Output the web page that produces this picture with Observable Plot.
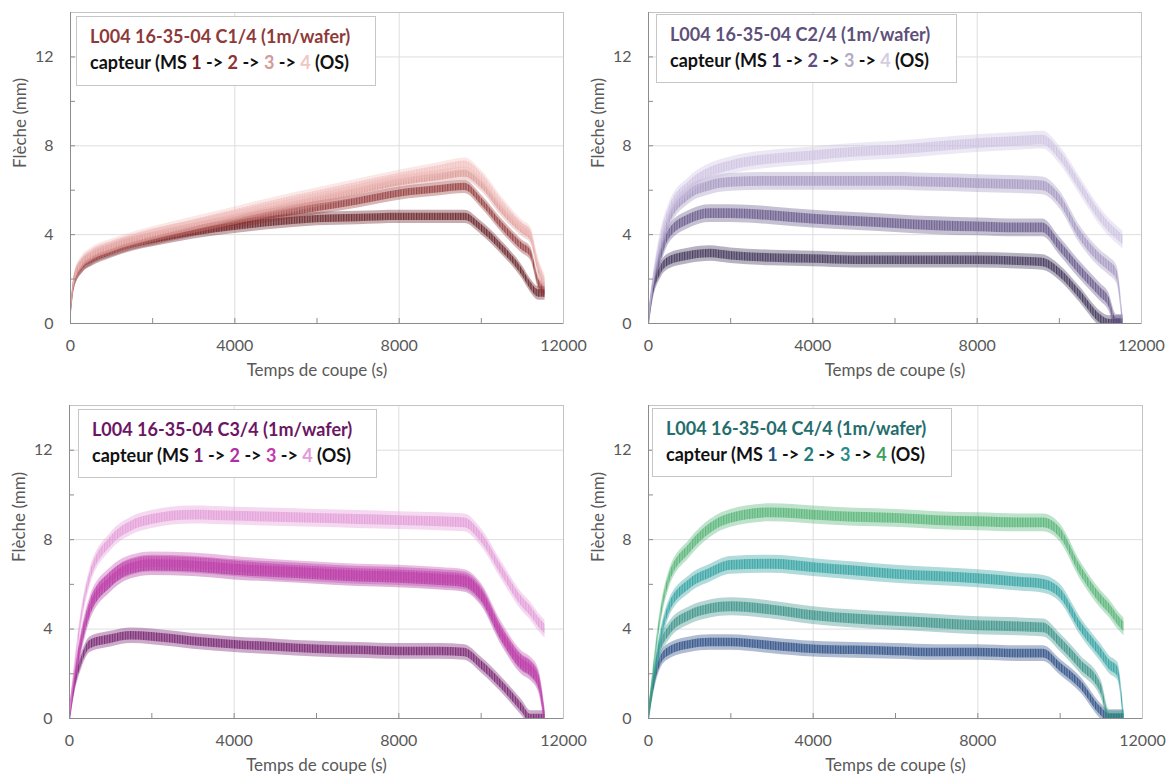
<!DOCTYPE html>
<html><head><meta charset="utf-8">
<script src="https://cdn.jsdelivr.net/npm/d3@7"></script>
<script src="https://cdn.jsdelivr.net/npm/@observablehq/plot@0.6"></script>
<style>
body{margin:0;background:#fff;}
#wrap{position:relative;width:1176px;height:778px;overflow:hidden;background:#fff;}
.panel{position:absolute;}
.legend{position:absolute;box-sizing:border-box;border:1px solid #c6c6c6;background:#fff;font-family:Lato,sans-serif;font-weight:700;font-size:18px;white-space:nowrap;}
.legend div{position:absolute;left:13px;line-height:20px;}
</style>
</head><body><div id="wrap"></div>
<script>
// time grid (s)
const T = [0,100,300,500,1000,1500,2000,3000,4000,5000,6000,7000,8000,9000,9600,10000,10500,11000,11200,11400,11550];
// C1/4 : Flèche (mm), capteurs 1..4
const c1s1 = [0.3,1.9,2.6,2.85,3.25,3.55,3.75,4.1,4.35,4.55,4.7,4.75,4.8,4.8,4.8,4.3,3.4,2.3,1.7,1.35,1.35];
const c1s2 = [0.3,1.9,2.6,2.9,3.3,3.6,3.8,4.2,4.55,4.9,5.2,5.5,5.85,6.05,6.15,5.5,4.4,3.45,3.15,1.8,1.45];
const c1s3 = [0.3,2.0,2.7,3.0,3.4,3.7,3.95,4.35,4.75,5.15,5.55,5.95,6.35,6.6,6.75,6.25,5.1,4.2,3.9,2.4,1.7];
const c1s4 = [0.3,2.0,2.8,3.1,3.5,3.8,4.05,4.5,4.95,5.4,5.8,6.2,6.6,6.95,7.15,6.6,5.4,4.35,4.05,2.6,1.9];
// C2/4
const c2s1 = [0,1.3,2.4,2.8,3.05,3.15,3.05,2.95,2.9,2.85,2.85,2.85,2.85,2.8,2.75,2.3,1.3,0.2,0,0,0];
const c2s2 = [0,1.4,3.0,4.0,4.7,4.95,4.95,4.85,4.7,4.6,4.5,4.4,4.35,4.3,4.3,3.5,2.4,1.4,1.0,0,0];
const c2s3 = [0,1.5,3.4,4.6,5.8,6.2,6.35,6.4,6.4,6.4,6.4,6.35,6.3,6.25,6.2,5.6,4.0,2.9,2.6,2.2,0];
const c2s4 = [0,1.6,3.8,5.0,6.2,6.8,7.1,7.4,7.55,7.7,7.8,7.95,8.1,8.2,8.25,7.6,6.2,4.8,4.35,4.0,3.75];
// C3/4
const c3s1 = [0,1.2,2.6,3.3,3.55,3.7,3.65,3.45,3.3,3.2,3.1,3.05,3.0,3.0,2.95,2.4,1.5,0.45,0,0,0];
const c3s2 = [0,1.3,3.4,4.8,6.1,6.7,6.85,6.8,6.65,6.55,6.45,6.35,6.3,6.2,6.1,5.5,3.7,2.4,2.15,1.6,0];
const c3s3 = [0,1.4,3.6,5.0,6.3,6.85,7.0,6.95,6.8,6.65,6.55,6.45,6.4,6.3,6.2,5.6,3.85,2.55,2.3,1.75,0];
const c3s4 = [0,1.7,4.6,6.3,7.9,8.6,8.9,9.1,9.05,9.0,8.95,8.9,8.85,8.8,8.75,8.1,6.6,5.2,4.8,4.3,4.0];
// C4/4
const c4s1 = [0,1.2,2.6,3.0,3.3,3.4,3.4,3.25,3.1,3.05,3.0,2.95,2.95,2.9,2.9,2.3,1.5,0.3,0,0,0];
const c4s2 = [0,1.3,3.2,3.9,4.6,4.9,5.0,4.85,4.6,4.45,4.35,4.25,4.15,4.1,4.05,3.4,2.4,1.3,0,0,0];
const c4s3 = [0,1.4,3.6,4.9,6.0,6.5,6.85,6.9,6.75,6.6,6.45,6.35,6.25,6.1,6.0,5.6,4.1,2.9,2.4,2.1,0];
const c4s4 = [0,1.7,4.6,6.2,7.6,8.5,8.95,9.2,9.1,9.0,8.95,8.85,8.8,8.75,8.75,8.3,6.6,5.3,4.9,4.4,4.1];
// scatter half-width of each band (mm)
const c1half = [0.3,0.3,0.3,0.3];
const c2half = [0.35,0.4,0.4,0.4];
const c3half = [0.35,0.45,0.45,0.4];
const c4half = [0.35,0.4,0.4,0.4];
// labels
const titles = ["L004 16-35-04 C1/4 (1m/wafer)","L004 16-35-04 C2/4 (1m/wafer)","L004 16-35-04 C3/4 (1m/wafer)","L004 16-35-04 C4/4 (1m/wafer)"];
const xTicks = [0,4000,8000,12000];
const xMinor = [2000,4000,6000,8000,10000];
const yTicks = [0,4,8,12];
const yMinor = [2,4,6,8,10,12];
const xLabel = "Temps de coupe (s)";
const yLabel = "Flèche (mm)";

const colors = [
  ["#5c1116","#8e2d2d","#d9928f","#f0bdbb"],
  ["#30234b","#5b4b80","#9e90bd","#cbbfe0"],
  ["#6b0f63","#a42694","#c444ae","#e193d5"],
  ["#1b3f7b","#2a8a7e","#1f9999","#46ad69"]
];
const titleColors = ["#8e3a3a","#5e5078","#6b1665","#236d6d"];
const numColors = [
  ["#7a2222","#8e3232","#d49a9a","#efc6c6"],
  ["#3a2c5c","#5c4d82","#b3abc4","#d4cde2"],
  ["#7a1a72","#b02fa2","#c23aa9","#e39ad9"],
  ["#1f4f7d","#1f7b7b","#2a8b8b","#3d9d5e"]
];
const seriesSets = [[c1s1,c1s2,c1s3,c1s4],[c2s1,c2s2,c2s3,c2s4],[c3s1,c3s2,c3s3,c3s4],[c4s1,c4s2,c4s3,c4s4]];
const halves = [c1half,c2half,c3half,c4half];

// layout
const layout = [
  {left:0, top:0, width:588, height:389, mL:70, mR:25, mT:12, mB:66, box:{l:76,t:16,w:300,h:70}},
  {left:588, top:0, width:588, height:389, mL:60, mR:35, mT:12, mB:66, box:{l:656,t:14,w:301,h:69}},
  {left:0, top:389, width:588, height:389, mL:69, mR:25, mT:16, mB:60, box:{l:78,t:409,w:299,h:69}},
  {left:588, top:389, width:588, height:389, mL:60, mR:34, mT:16, mB:60, box:{l:652,t:408,w:300,h:69}}
];

const fmt = d => String(d);
const wrap = document.getElementById("wrap");
seriesSets.forEach((set, p) => {
  const L = layout[p];
  const rows = [];
  set.forEach((vals, i) => T.forEach((t, j) => rows.push({t, v: vals[j], s: i, h: halves[p][i]})));
  const marks = [
    Plot.gridY([4,8,12], {stroke:"#dedede", strokeOpacity:1}),
    Plot.gridX([4000,8000], {stroke:"#dedede", strokeOpacity:1}),
    Plot.frame({stroke:"#c4c4c4"})
  ];
  for (let i = 0; i < 4; i++) {
    const d = rows.filter(r => r.s === i);
    marks.push(Plot.areaY(d, {x:"t", y1: r => r.v - r.h, y2: r => r.v + r.h, fill: colors[p][i], fillOpacity: 0.35, curve:"monotone-x", clip:true}));
    marks.push(Plot.areaY(d, {x:"t", y1: r => r.v - r.h*0.55, y2: r => r.v + r.h*0.55, fill: colors[p][i], fillOpacity: 0.8, curve:"monotone-x", clip:true}));
  }
  marks.push(
    Plot.ruleY([0], {stroke:"#8c8c8c"}),
    Plot.ruleX([0], {stroke:"#8c8c8c"}),
    Plot.axisX(xMinor, {tickSize:-5, tickFormat: () => "", stroke:"#8c8c8c", label:null}),
    Plot.axisY(yMinor, {tickSize:-5, tickFormat: () => "", stroke:"#8c8c8c", label:null}),
    Plot.axisX(xTicks, {tickSize:0, tickPadding:16, fontSize:16, fill:"#595959", label:null, tickFormat: fmt}),
    Plot.axisY(yTicks, {tickSize:0, tickPadding:17, fontSize:16, fill:"#595959", label:null, tickFormat: fmt}),
    Plot.text([xLabel], {frameAnchor:"bottom", dy:52, fontSize:17, fill:"#595959", text: d => d}),
    Plot.text([yLabel], {frameAnchor:"left", dx:-50, rotate:-90, fontSize:17, fill:"#595959", text: d => d})
  );
  const chart = Plot.plot({
    width: L.width, height: L.height,
    marginLeft: L.mL, marginRight: L.mR, marginTop: L.mT, marginBottom: L.mB,
    x: {domain:[0,12000]},
    y: {domain:[0,14]},
    style: {fontFamily:"Lato, sans-serif", background:"transparent", color:"#595959", overflow:"visible"},
    marks
  });
  // vertical-hatch texture for the dense core of each band
  const ns = "http://www.w3.org/2000/svg";
  const defs = document.createElementNS(ns, "defs");
  colors[p].forEach((c, i) => {
    const pat = document.createElementNS(ns, "pattern");
    pat.setAttribute("id", `hatch${p}_${i}`);
    pat.setAttribute("patternUnits", "userSpaceOnUse");
    pat.setAttribute("width", "2.6"); pat.setAttribute("height", "20");
    const r1 = document.createElementNS(ns, "rect");
    r1.setAttribute("width", "2.6"); r1.setAttribute("height", "20");
    r1.setAttribute("fill", c); r1.setAttribute("fill-opacity", "0.45");
    const r2 = document.createElementNS(ns, "rect");
    r2.setAttribute("width", "1.2"); r2.setAttribute("height", "20");
    r2.setAttribute("fill", c); r2.setAttribute("fill-opacity", "1");
    pat.appendChild(r1); pat.appendChild(r2); defs.appendChild(pat);
  });
  chart.insertBefore(defs, chart.firstChild);
  const areas = chart.querySelectorAll('g[aria-label="area"]');
  areas.forEach((g, k) => {
    if (k % 2 === 1) {
      const i = (k - 1) / 2;
      g.setAttribute("fill", `url(#hatch${p}_${i})`);
      g.setAttribute("fill-opacity", "1");
      g.querySelectorAll("path").forEach(path => { path.setAttribute("fill", `url(#hatch${p}_${i})`); });
    }
  });

  const div = document.createElement("div");
  div.className = "panel";
  div.style.left = L.left + "px"; div.style.top = L.top + "px";
  div.appendChild(chart);
  wrap.appendChild(div);

  // legend box
  const b = document.createElement("div");
  b.className = "legend";
  b.style.left = L.box.l + "px"; b.style.top = L.box.t + "px";
  b.style.width = L.box.w + "px"; b.style.height = L.box.h + "px";
  const l1 = document.createElement("div");
  l1.style.top = "9px"; l1.style.color = titleColors[p]; l1.textContent = titles[p];
  const l2 = document.createElement("div");
  l2.style.top = "35px"; l2.style.color = "#111";
  const nc = numColors[p];
  l2.innerHTML = `capteur (MS <span style="color:${nc[0]}">1</span> -&gt; <span style="color:${nc[1]}">2</span> -&gt; <span style="color:${nc[2]}">3</span> -&gt; <span style="color:${nc[3]}">4</span> (OS)`;
  b.appendChild(l1); b.appendChild(l2);
  wrap.appendChild(b);
});
</script>
</body></html>
